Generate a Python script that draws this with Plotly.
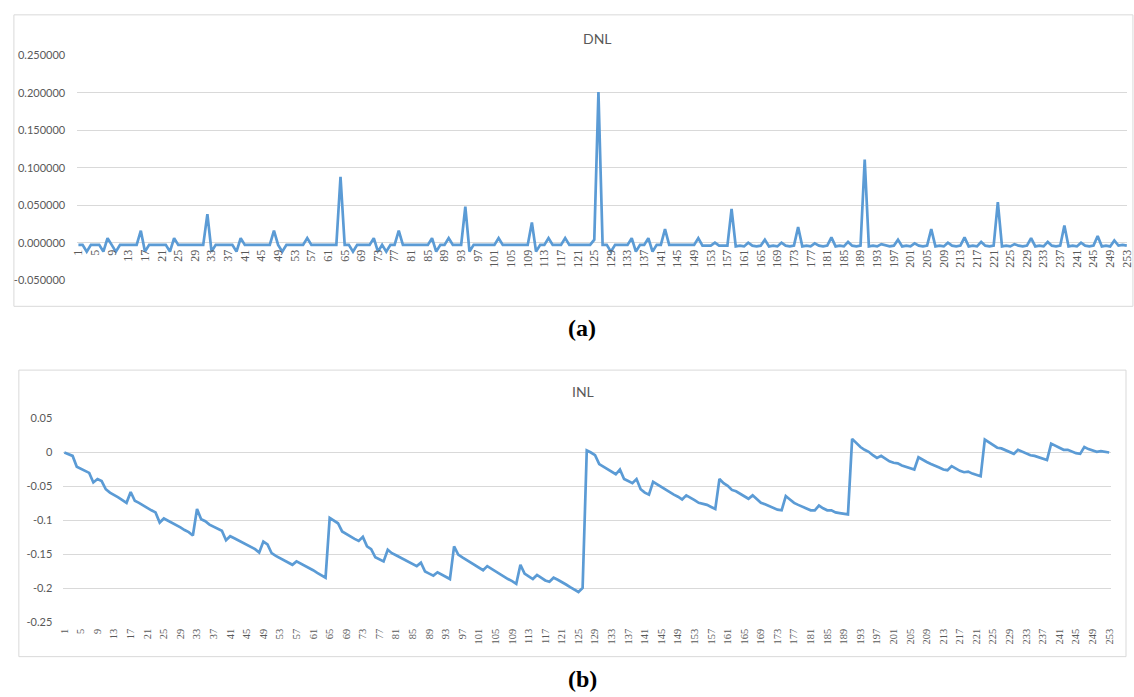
import plotly.graph_objects as go

# ---------------- data ----------------
codes = list(range(1, 254))

dnl = [
    -0.003, -0.003, -0.012, -0.003, -0.003, -0.003, -0.012, 0.006, -0.003, -0.012,
    -0.003, -0.003, -0.003, -0.003, -0.003, 0.016, -0.012, -0.003, -0.003, -0.003,
    -0.003, -0.003, -0.012, 0.006, -0.003, -0.003, -0.003, -0.003, -0.003, -0.003,
    -0.003, 0.038, -0.012, -0.003, -0.003, -0.003, -0.003, -0.003, -0.012, 0.006,
    -0.003, -0.003, -0.003, -0.003, -0.003, -0.003, -0.003, 0.016, -0.003, -0.012,
    -0.003, -0.003, -0.003, -0.003, -0.003, 0.006, -0.003, -0.003, -0.003, -0.003,
    -0.003, -0.003, -0.003, 0.088, -0.003, -0.003, -0.012, -0.003, -0.003, -0.003,
    -0.003, 0.006, -0.012, -0.003, -0.012, -0.003, -0.003, 0.016, -0.003, -0.003,
    -0.003, -0.003, -0.003, -0.003, -0.003, 0.006, -0.012, -0.003, -0.003, 0.006,
    -0.003, -0.003, -0.003, 0.048, -0.012, -0.003, -0.003, -0.003, -0.003, -0.003,
    -0.003, 0.006, -0.003, -0.003, -0.003, -0.003, -0.003, -0.003, -0.003, 0.027,
    -0.012, -0.003, -0.003, 0.006, -0.003, -0.003, -0.003, 0.006, -0.003, -0.003,
    -0.003, -0.003, -0.003, -0.003, 0.004, 0.201, -0.003, -0.003, -0.012, -0.003,
    -0.003, -0.003, -0.003, 0.006, -0.012, -0.003, -0.003, 0.006, -0.012, -0.003,
    -0.003, 0.018, -0.003, -0.003, -0.003, -0.003, -0.003, -0.003, -0.003, 0.006,
    -0.004, -0.004, -0.004, 0.000, -0.004, -0.004, -0.004, 0.045, -0.005, -0.004,
    -0.005, 0.000, -0.004, -0.005, -0.004, 0.004, -0.005, -0.004, -0.005, 0.000,
    -0.004, -0.005, -0.004, 0.021, -0.005, -0.004, -0.005, -0.001, -0.004, -0.005,
    -0.004, 0.007, -0.005, -0.004, -0.005, 0.001, -0.004, -0.005, -0.004, 0.111,
    -0.005, -0.004, -0.005, -0.002, -0.004, -0.005, -0.004, 0.004, -0.005, -0.004,
    -0.005, -0.001, -0.004, -0.005, -0.004, 0.018, -0.005, -0.004, -0.005, 0.000,
    -0.004, -0.005, -0.004, 0.007, -0.005, -0.004, -0.005, 0.001, -0.004, -0.005,
    -0.004, 0.054, -0.005, -0.004, -0.005, -0.002, -0.004, -0.005, -0.004, 0.006,
    -0.005, -0.004, -0.005, 0.001, -0.004, -0.005, -0.004, 0.023, -0.005, -0.004,
    -0.005, 0.000, -0.004, -0.005, -0.004, 0.009, -0.005, -0.004, -0.005, 0.003,
    -0.004, -0.003, -0.004,
]

inl = [
    0.000, -0.002, -0.005, -0.021, -0.024, -0.027, -0.030, -0.044, -0.039, -0.042,
    -0.054, -0.059, -0.062, -0.066, -0.070, -0.074, -0.058, -0.071, -0.074, -0.078,
    -0.081, -0.085, -0.088, -0.103, -0.097, -0.100, -0.103, -0.107, -0.110, -0.114,
    -0.117, -0.122, -0.083, -0.098, -0.101, -0.106, -0.109, -0.112, -0.115, -0.129,
    -0.123, -0.126, -0.129, -0.132, -0.136, -0.139, -0.142, -0.147, -0.131, -0.135,
    -0.148, -0.152, -0.155, -0.158, -0.162, -0.165, -0.160, -0.163, -0.166, -0.170,
    -0.173, -0.177, -0.180, -0.184, -0.096, -0.100, -0.104, -0.116, -0.120, -0.123,
    -0.127, -0.130, -0.124, -0.138, -0.142, -0.154, -0.157, -0.160, -0.143, -0.148,
    -0.151, -0.154, -0.157, -0.160, -0.163, -0.167, -0.162, -0.175, -0.178, -0.181,
    -0.176, -0.179, -0.182, -0.186, -0.138, -0.150, -0.154, -0.158, -0.161, -0.165,
    -0.169, -0.173, -0.167, -0.171, -0.175, -0.179, -0.182, -0.186, -0.189, -0.193,
    -0.165, -0.178, -0.182, -0.186, -0.180, -0.184, -0.188, -0.190, -0.184, -0.187,
    -0.190, -0.194, -0.198, -0.201, -0.205, -0.199, 0.003, 0.000, -0.004, -0.017,
    -0.021, -0.025, -0.028, -0.032, -0.025, -0.039, -0.042, -0.045, -0.039, -0.054,
    -0.059, -0.062, -0.043, -0.047, -0.051, -0.054, -0.058, -0.062, -0.065, -0.069,
    -0.063, -0.066, -0.070, -0.074, -0.075, -0.077, -0.080, -0.083, -0.039, -0.045,
    -0.049, -0.055, -0.057, -0.061, -0.065, -0.068, -0.063, -0.068, -0.074, -0.076,
    -0.079, -0.082, -0.084, -0.085, -0.064, -0.069, -0.074, -0.077, -0.080, -0.083,
    -0.085, -0.085, -0.078, -0.082, -0.085, -0.085, -0.088, -0.089, -0.090, -0.091,
    0.020, 0.014, 0.008, 0.004, 0.001, -0.004, -0.008, -0.005, -0.009, -0.013,
    -0.015, -0.016, -0.019, -0.021, -0.023, -0.025, -0.007, -0.011, -0.014, -0.017,
    -0.019, -0.022, -0.025, -0.026, -0.020, -0.024, -0.027, -0.029, -0.028, -0.031,
    -0.033, -0.035, 0.019, 0.015, 0.011, 0.007, 0.006, 0.003, 0.001, -0.002,
    0.004, 0.001, -0.002, -0.004, -0.005, -0.007, -0.009, -0.011, 0.013, 0.010,
    0.006, 0.004, 0.004, 0.001, -0.001, -0.002, 0.008, 0.005, 0.003, 0.001,
    0.002, 0.001, 0.000,
]

x_tick_codes = codes[::4]
x_tick_labels = [str(c) for c in x_tick_codes]

dnl_y_ticks = [-0.05, 0.0, 0.05, 0.10, 0.15, 0.20, 0.25]
dnl_y_labels = ["-0.050000", "0.000000", "0.050000", "0.100000", "0.150000", "0.200000", "0.250000"]
inl_y_ticks = [-0.25, -0.20, -0.15, -0.10, -0.05, 0.0, 0.05]
inl_y_labels = ["-0.25", "-0.2", "-0.15", "-0.1", "-0.05", "0", "0.05"]

assert len(dnl) == len(codes) == len(inl)

# ---------------- layout helpers ----------------
W, H = 1134, 697
def px(x):
    return x / W
def py(y):
    return 1 - y / H

LINE = "#5B9BD5"
GRID = "#D9D9D9"
TXT = "#595959"
SANS = "Lato, 'Open Sans', Arial, sans-serif"
SERIF = "'Liberation Serif', 'Times New Roman', serif"

fig = go.Figure()
fig.add_trace(go.Scatter(x=codes, y=dnl, mode="lines", xaxis="x", yaxis="y",
                         line=dict(color=LINE, width=2.7), showlegend=False,
                         hoverinfo="x+y"))
fig.add_trace(go.Scatter(x=codes, y=inl, mode="lines", xaxis="x2", yaxis="y2",
                         line=dict(color=LINE, width=2.7), showlegend=False,
                         hoverinfo="x+y"))

fig.update_layout(
    width=W, height=H,
    margin=dict(l=0, r=0, t=0, b=0),
    paper_bgcolor="white", plot_bgcolor="rgba(0,0,0,0)",
    # DNL
    xaxis=dict(domain=[px(72), 1.0], range=[0.7, 253.05], anchor="free",
               position=py(244), showgrid=False, zeroline=False, showline=False,
               tickmode="array", tickvals=x_tick_codes, ticktext=x_tick_labels,
               tickangle=-90, ticks="", ticklabeloverflow="allow",
               tickfont=dict(family=SERIF, size=12, color=TXT)),
    yaxis=dict(domain=[py(278.3), py(49.3)], range=[-0.05, 0.25], anchor="x",
               showgrid=True, gridcolor=GRID, gridwidth=1, zeroline=False,
               tickmode="array", tickvals=dnl_y_ticks, ticktext=dnl_y_labels,
               ticks="", ticklabelstandoff=11, tickfont=dict(family=SANS, size=11, color=TXT)),
    # INL
    xaxis2=dict(domain=[px(58), px(1118)], range=[0.76, 253.48], anchor="y2",
                showgrid=False, zeroline=False, showline=False,
                tickmode="array", tickvals=x_tick_codes, ticktext=x_tick_labels,
                tickangle=-90, ticks="", ticklabelstandoff=3, ticklabeloverflow="allow",
                tickfont=dict(family=SERIF, size=10.5, color=TXT)),
    yaxis2=dict(domain=[py(627.3), py(419.3)], range=[-0.25, 0.05], anchor="x2",
                showgrid=True, gridcolor=GRID, gridwidth=1, zeroline=False,
                tickmode="array", tickvals=inl_y_ticks, ticktext=inl_y_labels,
                ticks="", ticklabelstandoff=10, tickfont=dict(family=SANS, size=11, color=TXT)),
    shapes=[
        dict(type="rect", xref="paper", yref="paper", x0=px(8), x1=px(1140),
             y0=py(305), y1=py(8), line=dict(color=GRID, width=1), layer="below"),
        dict(type="rect", xref="paper", yref="paper", x0=px(13), x1=px(1133),
             y0=py(662), y1=py(370), line=dict(color=GRID, width=1), layer="below"),
    ],
    annotations=[
        dict(text="DNL", x=px(598), y=py(32), xref="paper", yref="paper",
             showarrow=False, xanchor="center", yanchor="middle",
             font=dict(family=SANS, size=14, color=TXT)),
        dict(text="INL", x=px(584), y=py(392), xref="paper", yref="paper",
             showarrow=False, xanchor="center", yanchor="middle",
             font=dict(family=SANS, size=14, color=TXT)),
        dict(text="<b>(a)</b>", x=px(583), y=py(327), xref="paper", yref="paper",
             showarrow=False, xanchor="center", yanchor="middle",
             font=dict(family=SERIF, size=24, color="black")),
        dict(text="<b>(b)</b>", x=px(583), y=py(685), xref="paper", yref="paper",
             showarrow=False, xanchor="center", yanchor="middle",
             font=dict(family=SERIF, size=24, color="black")),
    ],
)

fig.write_html("out.html")
